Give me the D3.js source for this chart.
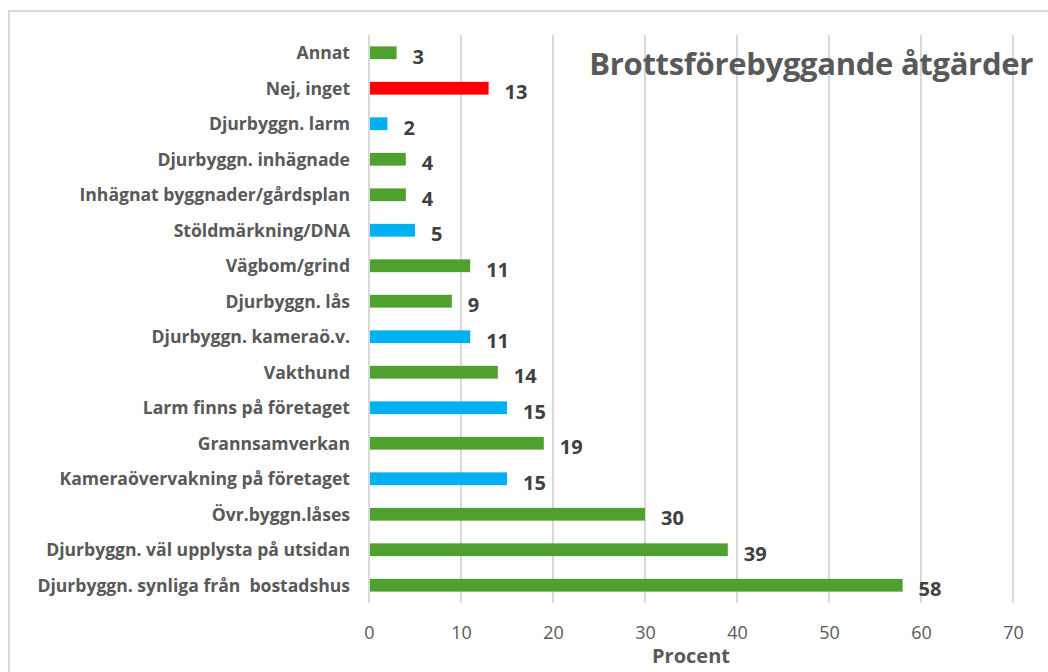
<!DOCTYPE html>
<html>
<head>
<meta charset="utf-8">
<script src="https://cdn.jsdelivr.net/npm/d3@7"></script>
<style>
  body { margin: 0; background: #fff; }
  svg { display: block; font-family: "Open Sans", "Noto Sans", sans-serif; }
</style>
</head>
<body>
<svg id="chart" width="1048" height="672"></svg>
<script>
// categories top to bottom, as in the picture
const categories = [
  "Annat",
  "Nej, inget",
  "Djurbyggn. larm",
  "Djurbyggn. inhägnade",
  "Inhägnat byggnader/gårdsplan",
  "Stöldmärkning/DNA",
  "Vägbom/grind",
  "Djurbyggn. lås",
  "Djurbyggn. kameraö.v.",
  "Vakthund",
  "Larm finns på företaget",
  "Grannsamverkan",
  "Kameraövervakning på företaget",
  "Övr.byggn.låses",
  "Djurbyggn. väl upplysta på utsidan",
  "Djurbyggn. synliga från  bostadshus"
];
const values = [3, 13, 2, 4, 4, 5, 11, 9, 11, 14, 15, 19, 15, 30, 39, 58];
const groups = ["g", "r", "b", "g", "g", "b", "g", "g", "b", "g", "b", "g", "b", "g", "g", "g"];
const xTicks = [0, 10, 20, 30, 40, 50, 60, 70];

const colors = { g: "#50a02f", r: "#ff0000", b: "#00b0f0" };
const font = "'Open Sans', 'Noto Sans', sans-serif";

const svg = d3.select("#chart");
const margin = { top: 35, left: 369, right: 35, bottom: 69 };
const width = 1048, height = 672;

// outer chart frame (runs off the picture on the right and bottom)
svg.append("rect")
  .attr("x", 9).attr("y", 11)
  .attr("width", 1060).attr("height", 700)
  .attr("fill", "none")
  .attr("stroke", "#d9d9d9")
  .attr("stroke-width", 2);

const x = d3.scaleLinear()
  .domain([0, 70])
  .range([margin.left, margin.left + 644]);

const y = d3.scaleBand()
  .domain(categories)
  .range([margin.top, height - margin.bottom])
  .paddingInner(0.64)
  .paddingOuter(0.32);

// gridlines
svg.append("g")
  .selectAll("line")
  .data(xTicks)
  .join("line")
    .attr("x1", d => x(d)).attr("x2", d => x(d))
    .attr("y1", margin.top).attr("y2", height - margin.bottom)
    .attr("stroke", "#d9d9d9")
    .attr("stroke-width", 2);

// x axis tick labels
const xAxis = g => g
  .attr("transform", `translate(0, ${height - margin.bottom})`)
  .call(d3.axisBottom(x).tickValues(xTicks).tickSize(0).tickPadding(23))
  .call(g => g.select(".domain").remove())
  .call(g => g.selectAll("text")
    .attr("fill", "#595959")
    .attr("font-size", 18)
    .attr("font-family", "'Liberation Sans Narrow', 'Open Sans', sans-serif"));
svg.append("g").call(xAxis);

// category labels
const yAxis = g => g
  .attr("transform", `translate(${margin.left}, 0)`)
  .call(d3.axisLeft(y).tickSize(0).tickPadding(19))
  .call(g => g.select(".domain").remove())
  .call(g => g.selectAll("text")
    .attr("fill", "#595959")
    .attr("font-size", 17.6)
    .attr("font-weight", "bold")
    .attr("font-family", font)
    .attr("letter-spacing", -0.02)
    .attr("dy", "0.36em")
    .style("white-space", "pre"));
svg.append("g").call(yAxis);

// bars
svg.append("g")
  .selectAll("rect")
  .data(values)
  .join("rect")
    .attr("x", x(0) + 1)
    .attr("y", (_, i) => y(categories[i]))
    .attr("width", d => x(d) - x(0) - 1)
    .attr("height", y.bandwidth())
    .attr("fill", (_, i) => colors[groups[i]]);

// value labels
svg.append("g")
  .selectAll("text")
  .data(values)
  .join("text")
    .attr("x", d => x(d) + 16)
    .attr("y", (_, i) => y(categories[i]) + y.bandwidth() / 2 + 4)
    .attr("dy", "0.35em")
    .attr("fill", "#404040")
    .attr("font-size", 20)
    .attr("font-weight", "bold")
    .text(d => d);

// title
svg.append("text")
  .attr("x", 1033).attr("y", 75)
  .attr("text-anchor", "end")
  .attr("fill", "#595959")
  .attr("font-size", 31)
  .attr("font-weight", "bold")
  .attr("letter-spacing", -0.3)
  .text("Brottsförebyggande åtgärder");

// x axis title
svg.append("text")
  .attr("x", x(35)).attr("y", 663)
  .attr("text-anchor", "middle")
  .attr("fill", "#595959")
  .attr("font-size", 20)
  .attr("font-weight", "bold")
  .text("Procent");
</script>
</body>
</html>
